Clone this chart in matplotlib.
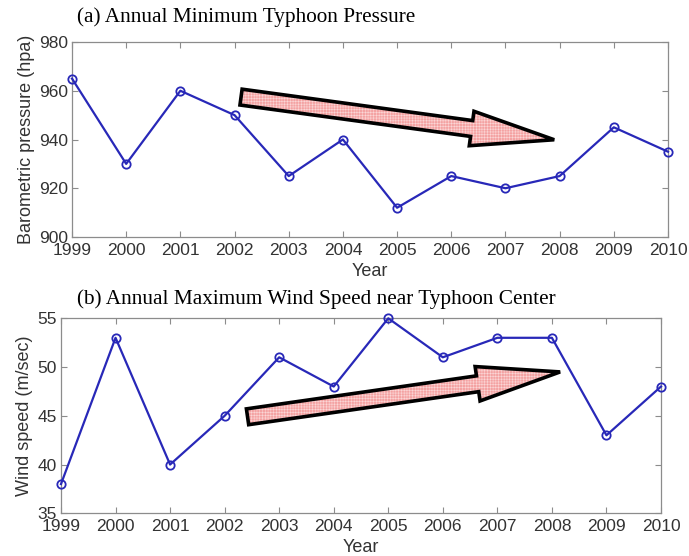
import matplotlib
matplotlib.use("Agg")
import matplotlib.pyplot as plt
from matplotlib.patches import FancyArrowPatch

years = [1999, 2000, 2001, 2002, 2003, 2004, 2005, 2006, 2007, 2008, 2009, 2010]
pressure = [965, 930, 960, 950, 925, 940, 912, 925, 920, 925, 945, 935]
wind = [38, 53, 40, 45, 51, 48, 55, 51, 53, 53, 43, 48]
pressure_ticks = [900, 920, 940, 960, 980]
wind_ticks = [35, 40, 45, 50, 55]

title_a = "(a) Annual Minimum Typhoon Pressure"
title_b = "(b) Annual Maximum Wind Speed near Typhoon Center"

LINE = "#2828b8"
TXT = "#333333"
SPINE = "#8c8c8c"

fig = plt.figure(figsize=(6.89, 5.56), dpi=100)
ax1 = fig.add_axes([72/689, 1-237/556, 596/689, 195/556])
ax2 = fig.add_axes([61/689, 1-513.3/556, 600/689, 195/556])

def style(ax, yticks, ylabel):
    ax.set_xlim(years[0], years[-1])
    ax.set_ylim(yticks[0], yticks[-1])
    ax.set_xticks(years)
    ax.set_yticks(yticks)
    ax.tick_params(direction="in", top=True, right=True, length=4, width=0.8,
                   color=SPINE, labelcolor=TXT, labelsize=12.5)
    ax.tick_params(axis="x", pad=4)
    ax.tick_params(axis="y", pad=3)
    for s in ax.spines.values():
        s.set_color(SPINE)
        s.set_linewidth(0.9)
    for lab in ax.get_xticklabels() + ax.get_yticklabels():
        lab.set_family("Liberation Sans")
    ax.set_xlabel("Year", fontsize=13, color=TXT, family="Liberation Sans", labelpad=4)
    ax.set_ylabel(ylabel, fontsize=13, color=TXT, family="Liberation Sans", labelpad=3)

ax1.plot(years, pressure, color=LINE, lw=1.6, marker="o", ms=6, mfc="none",
         mec=LINE, mew=1.3, clip_on=False, zorder=3)
style(ax1, pressure_ticks, "Barometric pressure (hpa)")

ax2.plot(years, wind, color=LINE, lw=1.6, marker="o", ms=6, mfc="none",
         mec=LINE, mew=1.3, clip_on=False, zorder=3)
style(ax2, wind_ticks, "Wind speed (m/sec)")

def big_arrow(ax, p0, p1):
    st = "simple,head_length=60,head_width=25,tail_width=11.5"
    fill = FancyArrowPatch(p0, p1, arrowstyle=st, mutation_scale=1,
                           shrinkA=0, shrinkB=0, facecolor="#f4a2a2",
                           edgecolor="#fbd6d6", hatch="++++++", lw=0,
                           zorder=4, transform=ax.transData)
    edge = FancyArrowPatch(p0, p1, arrowstyle=st, mutation_scale=1,
                           shrinkA=0, shrinkB=0, facecolor="none",
                           edgecolor="black", lw=2.6, joinstyle="miter",
                           zorder=5, transform=ax.transData)
    ax.add_patch(fill)
    ax.add_patch(edge)

plt.rcParams["hatch.linewidth"] = 0.4
big_arrow(ax1, (2002.12, 957.4), (2007.9, 939.9))
big_arrow(ax2, (2002.42, 44.9), (2008.15, 49.5))

fig.text(77/689, 1-17/556, title_a, family="Liberation Serif", fontsize=15.3,
         ha="left", va="center", color="black")
fig.text(77/689, 1-299/556, title_b, family="Liberation Serif", fontsize=15.3,
         ha="left", va="center", color="black")

fig.savefig("out.png", dpi=100)
